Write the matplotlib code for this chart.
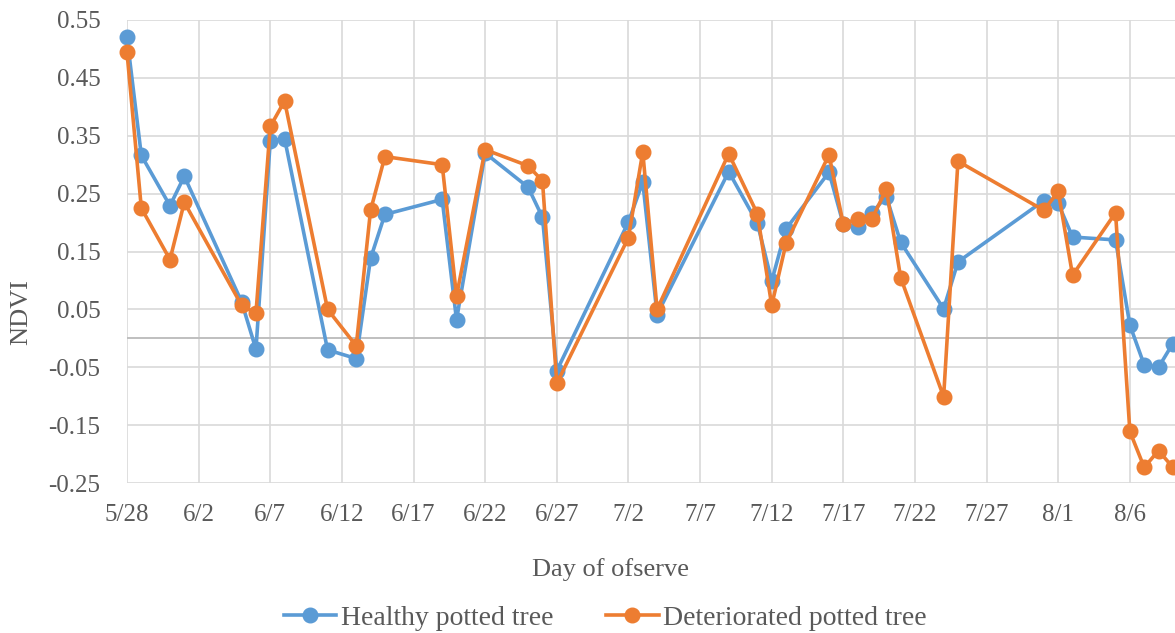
import datetime
import matplotlib
import matplotlib.pyplot as plt
import matplotlib.dates as mdates
from matplotlib.lines import Line2D

matplotlib.use('Agg')

plt.rcParams['font.family'] = ['Liberation Serif', 'DejaVu Serif']

# day offsets from 5/28
days = [0, 1, 3, 4, 8, 9, 10, 11, 14, 16, 17, 18, 22, 23, 25, 28, 29, 30,
        35, 36, 37, 42, 44, 45, 46, 49, 50, 51, 52, 53, 54, 57, 58,
        64, 65, 66, 69, 70, 71, 72, 73]

healthy = [0.520, 0.316, 0.229, 0.280, 0.063, -0.019, 0.341, 0.345, -0.020, -0.035,
           0.138, 0.214, 0.240, 0.032, 0.320, 0.261, 0.209, -0.056,
           0.201, 0.270, 0.041, 0.288, 0.199, 0.099, 0.189, 0.287, 0.197, 0.192,
           0.217, 0.245, 0.166, 0.051, 0.132,
           0.238, 0.233, 0.175, 0.170, 0.023, -0.046, -0.050, -0.009]

deteriorated = [0.494, 0.225, 0.136, 0.235, 0.057, 0.043, 0.366, 0.410, 0.050, -0.013,
                0.221, 0.314, 0.300, 0.073, 0.326, 0.298, 0.272, -0.078,
                0.174, 0.322, 0.050, 0.319, 0.215, 0.057, 0.164, 0.317, 0.197, 0.207,
                0.206, 0.258, 0.105, -0.101, 0.306,
                0.221, 0.254, 0.109, 0.217, -0.161, -0.223, -0.194, -0.223]

y_ticks = [-0.25, -0.15, -0.05, 0.05, 0.15, 0.25, 0.35, 0.45, 0.55]

start = datetime.datetime(2018, 5, 28)
dates = [start + datetime.timedelta(days=d) for d in days]
tick_dates = [start + datetime.timedelta(days=5 * i) for i in range(15)]

BLUE = '#5B9BD5'
ORANGE = '#ED7D31'
TXT = '#595959'

fig = plt.figure(figsize=(11.75, 6.33), dpi=100)
ax = fig.add_axes([127 / 1175, 1 - 483 / 633, 1 - 127 / 1175, 463 / 633])

ax.plot(dates, healthy, color=BLUE, linewidth=2.6, marker='o', markersize=10.5,
        clip_on=False, zorder=3)
ax.plot(dates, deteriorated, color=ORANGE, linewidth=2.6, marker='o', markersize=10.5,
        clip_on=False, zorder=4)

ax.set_ylim(-0.25, 0.55)
ax.set_yticks(y_ticks)
ax.set_yticklabels([f'{v:.2f}' for v in y_ticks])
ax.set_xlim(start, start + datetime.timedelta(days=73.15))
ax.set_xticks(tick_dates)
ax.xaxis.set_major_formatter(mdates.DateFormatter('%-m/%-d'))

ax.grid(True, color='#D9D9D9', linewidth=1.2)
ax.set_axisbelow(True)
ax.axhline(0, color='#BFBFBF', linewidth=1.4, zorder=1)
for s in ax.spines.values():
    s.set_visible(False)
ax.tick_params(length=0, labelsize=18, colors=TXT)
ax.tick_params(axis='y', pad=19)
ax.tick_params(axis='x', pad=15)

fig.text(21 / 1175, 1 - 312 / 633, 'NDVI', rotation=90, ha='center', va='center',
         fontsize=19, color=TXT)
fig.text(611 / 1175, 1 - 570 / 633, 'Day of ofserve', ha='center', va='center',
         fontsize=19, color=TXT)

handles = [Line2D([], [], color=BLUE, linewidth=2.6, marker='o', markersize=10.5),
           Line2D([], [], color=ORANGE, linewidth=2.6, marker='o', markersize=10.5)]
fig.legend(handles, ['Healthy potted tree', 'Deteriorated potted tree'],
           loc='center', bbox_to_anchor=(605 / 1175, 1 - 618 / 633), ncol=2,
           frameon=False, fontsize=20, labelcolor=TXT, handlelength=1.9,
           handletextpad=0.15, columnspacing=1.9)

fig.savefig('out.png', dpi=100)
